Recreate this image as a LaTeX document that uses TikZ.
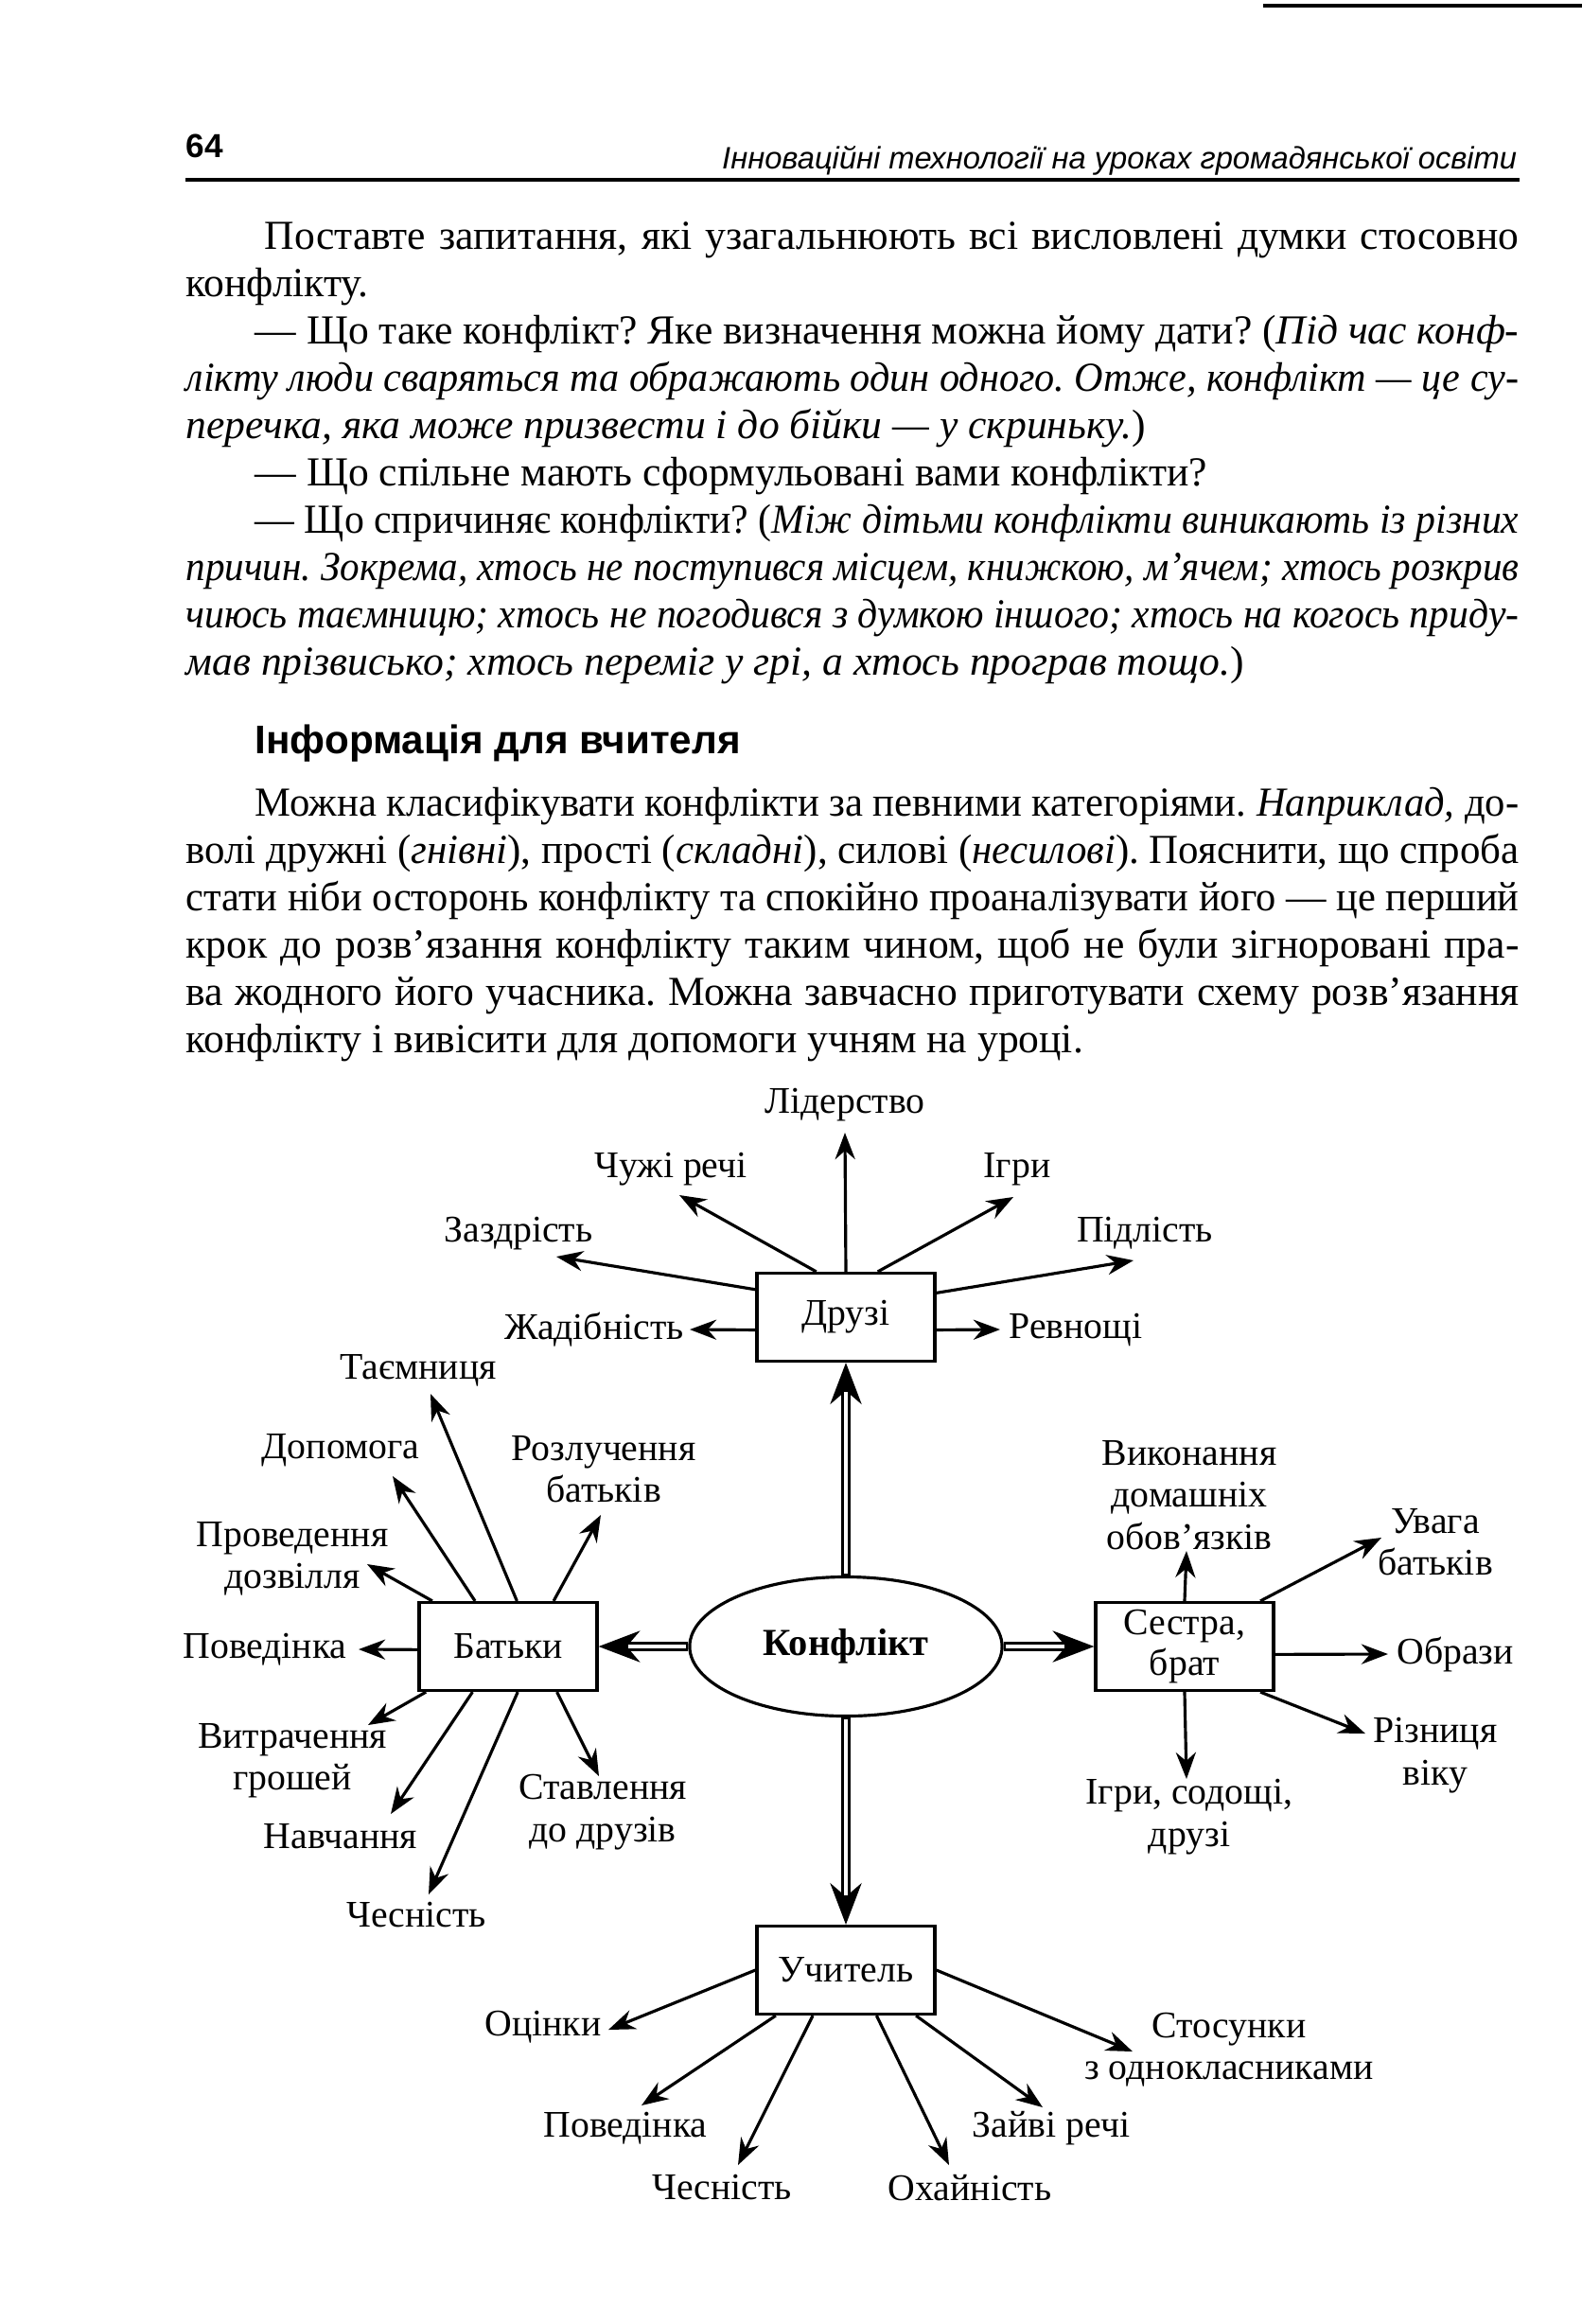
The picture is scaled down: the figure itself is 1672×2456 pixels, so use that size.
\documentclass[tikz,border=0pt]{standalone}
\usepackage{fontspec}
\setmainfont{Liberation Serif}
\setsansfont{Liberation Sans}
\usepackage{graphicx}
\usetikzlibrary{positioning,arrows.meta,shapes.geometric}
\frenchspacing

% justified line of a given width
\newlength{\jlw}
\newcommand{\jl}[2]{\settowidth{\jlw}{#2}%
  \ifdim\jlw>#1\relax\resizebox{#1}{\height}{#2}\else\makebox[#1][s]{#2}\fi}

\tikzset{
  bodytxt/.style={font=\fontsize{12.4}{14}\selectfont, anchor=base west, inner sep=0pt},
  lbl/.style={font=\fontsize{11.3}{12.6}\selectfont, align=center, inner sep=0pt},
  topic/.style={draw, line width=0.9pt, minimum width=1.88cm, minimum height=0.93cm,
    inner sep=1pt, align=center, font=\fontsize{11.3}{12}\selectfont},
  arr/.style={line width=0.9pt, -{Stealth[length=8pt,width=6pt]}},
  dblout/.style={line width=2.8pt, -{Stealth[length=12.5pt,width=9.5pt,line width=0.4pt]}},
  dblin/.style={white, line width=1.2pt, shorten >=8.8pt, shorten <=0.6pt}
}

\begin{document}
\begin{tikzpicture}[x=0.01cm, y=-0.01cm]
  \fill[white] (0,0) rectangle (1672,2456);
  \useasboundingbox (0,0) rectangle (1672,2456);
  \draw[line width=1pt] (1335,6) -- (1672,6);

  % running head
  \node[font=\fontsize{10}{12}\selectfont\sffamily\bfseries, anchor=base west, inner sep=0pt]
    (pagenum) at (196,166) {64};
  \node[font=\fontsize{9.3}{12}\selectfont\sffamily\itshape, anchor=base east, inner sep=0pt]
    (runhead) at (1604,178) {Інноваційні технології на уроках громадянської освіти};
  \draw[line width=1.1pt] (196,190) -- (1606,190);

  % text
  \node[bodytxt] (p1a) at (279,263) {\jl{13.25cm}{Поставте запитання, які узагальнюють всі висловлені думки стосовно}};
  \node[bodytxt] (p1b) at (196,313) {конфлікту.};
  \node[bodytxt] (p1c) at (269,363) {\jl{13.35cm}{— Що таке конфлікт? Яке визначення можна йому дати? (\textit{Під час конф-}}};
  \node[bodytxt] (p1d) at (196,413) {\jl{14.08cm}{\textit{лікту люди сваряться та ображають один одного. Отже, конфлікт — це су-}}};
  \node[bodytxt] (p1e) at (196,463) {\textit{перечка, яка може призвести і до бійки — у скриньку.})};
  \node[bodytxt] (p1f) at (269,513) {— Що спільне мають сформульовані вами конфлікти?};
  \node[bodytxt] (p1g) at (269,563) {\jl{13.35cm}{— Що спричиняє конфлікти? (\textit{Між дітьми конфлікти виникають із різних}}};
  \node[bodytxt] (p1h) at (196,613) {\jl{14.08cm}{\textit{причин. Зокрема, хтось не поступився місцем, книжкою, м’ячем; хтось розкрив}}};
  \node[bodytxt] (p1i) at (196,663) {\jl{14.08cm}{\textit{чиюсь таємницю; хтось не погодився з думкою іншого; хтось на когось приду-}}};
  \node[bodytxt] (p1j) at (196,713) {\textit{мав прізвисько; хтось переміг у грі, а хтось програв тощо.})};

  \node[bodytxt, font=\fontsize{12}{14}\selectfont\sffamily\bfseries] (info) at (269,796) {Інформація для вчителя};

  \node[bodytxt] (p2a) at (269,862) {\jl{13.35cm}{Можна класифікувати конфлікти за певними категоріями. \textit{Наприклад,} до-}};
  \node[bodytxt] (p2b) at (196,912) {\jl{14.08cm}{волі дружні (\textit{гнівні}), прості (\textit{складні}), силові (\textit{несилові}). Пояснити, що спроба}};
  \node[bodytxt] (p2c) at (196,962) {\jl{14.08cm}{стати ніби осторонь конфлікту та спокійно проаналізувати його — це перший}};
  \node[bodytxt] (p2d) at (196,1012) {\jl{14.08cm}{крок до розв’язання конфлікту таким чином, щоб не були зігноровані пра-}};
  \node[bodytxt] (p2e) at (196,1062) {\jl{14.08cm}{ва жодного його учасника. Можна завчасно приготувати схему розв’язання}};
  \node[bodytxt] (p2f) at (196,1112) {конфлікту і вивісити для допомоги учням на уроці.};

  % scheme
  \node[ellipse, draw, line width=0.9pt, minimum width=3.3cm, minimum height=1.47cm, inner sep=0pt,
    font=\fontsize{11.5}{12}\selectfont\bfseries] (konf) at (894,1740) {Конфлікт};
  \node[topic] (druzi) at (894,1392) {Друзі};
  \node[topic] (batky) at (537,1740) {Батьки};
  \node[topic] (sestra) at (1252,1740) {Сестра,\\брат};
  \node[topic] (uchyt) at (894,2082) {Учитель};

  \foreach \a/\b in {konf.north/druzi.south, konf.west/batky.east, konf.east/sestra.west, konf.south/uchyt.north} {
    \draw[dblout] (\a) -- (\b);
    \draw[dblin] (\a) -- (\b);
  }

  % friends
  \node[lbl] (lider) at (893,1168) {Лідерство};
  \node[lbl] (chuzhi) at (709,1236) {Чужі речі};
  \node[lbl] (ihry) at (1075,1236) {Ігри};
  \node[lbl] (zazdr) at (548,1304) {Заздрість};
  \node[lbl] (pidl) at (1210,1303) {Підлість};
  \node[lbl] (zhad) at (628,1405) {Жадібність};
  \node[lbl] (revn) at (1137,1405) {Ревнощі};
  \foreach \ang/\lab/\dx/\dy in {90/lider/0/29, 123/chuzhi/9/27, 55/ihry/-4/29, 163/zazdr/40/24,
      15/pidl/-12/29, 188/zhad/101/0, -8/revn/-80/0}
    \draw[arr] (druzi.\ang) -- ([shift={(\dx,\dy)}]\lab.center);

  % parents
  \node[lbl] (taemn) at (442,1448) {Таємниця};
  \node[lbl] (dopom) at (360,1533) {Допомога};
  \node[lbl] (rozl) at (638,1553) {Розлучення\\батьків};
  \node[lbl] (prov) at (309,1647) {Проведення\\дозвілля};
  \node[lbl] (poved) at (280,1743) {Поведінка};
  \node[lbl] (vytr) at (309,1861) {Витрачення\\грошей};
  \node[lbl] (navch) at (360,1941) {Навчання};
  \node[lbl] (chesn) at (440,2024) {Чесність};
  \node[lbl] (stavl) at (637,1915) {Ставлення\\до друзів};
  \foreach \ang/\lab/\dx/\dy in {79/taemn/13/25, 126/dopom/55/27, 45/rozl/-3/48, 149/prov/79/6,
      182/poved/99/0, 209/vytr/80/-38, 232/navch/53/-24, 282/chesn/13/-22, -43/stavl/-4/-38}
    \draw[arr] (batky.\ang) -- ([shift={(\dx,\dy)}]\lab.center);

  % sister, brother
  \node[lbl] (vykon) at (1257,1580) {Виконання\\домашніх\\обов’язків};
  \node[lbl] (uvaga) at (1517,1630) {Увага\\батьків};
  \node[lbl] (obrazy) at (1538,1748) {Образи};
  \node[lbl] (rizn) at (1517,1855) {Різниця\\віку};
  \node[lbl] (ihrysod) at (1257,1920) {Ігри, содощі,\\друзі};
  \foreach \ang/\lab/\dx/\dy in {90/vykon/-3/59, 31/uvaga/-57/-5, -5/obrazy/-71/0,
      -31/rizn/-74/-23, 270/ihrysod/-3/-40}
    \draw[arr] (sestra.\ang) -- ([shift={(\dx,\dy)}]\lab.center);

  % teacher
  \node[lbl] (otsin) at (574,2142) {Оцінки};
  \node[lbl] (poved2) at (661,2249) {Поведінка};
  \node[lbl] (chesn2) at (763,2312) {Чесність};
  \node[lbl] (okhain) at (1025,2312) {Охайність};
  \node[lbl] (zaivi) at (1111,2249) {Зайві речі};
  \node[lbl] (stos) at (1299,2166) {Стосунки\\з однокласниками};
  \foreach \ang/\lab/\dx/\dy in {180/otsin/69/3, 213/poved2/17/-24, 234/chesn2/17/-24,
      -56/okhain/-22/-24, -33/zaivi/-9/-22, 0/stos/-102/2}
    \draw[arr] (uchyt.\ang) -- ([shift={(\dx,\dy)}]\lab.center);
\end{tikzpicture}
\end{document}
